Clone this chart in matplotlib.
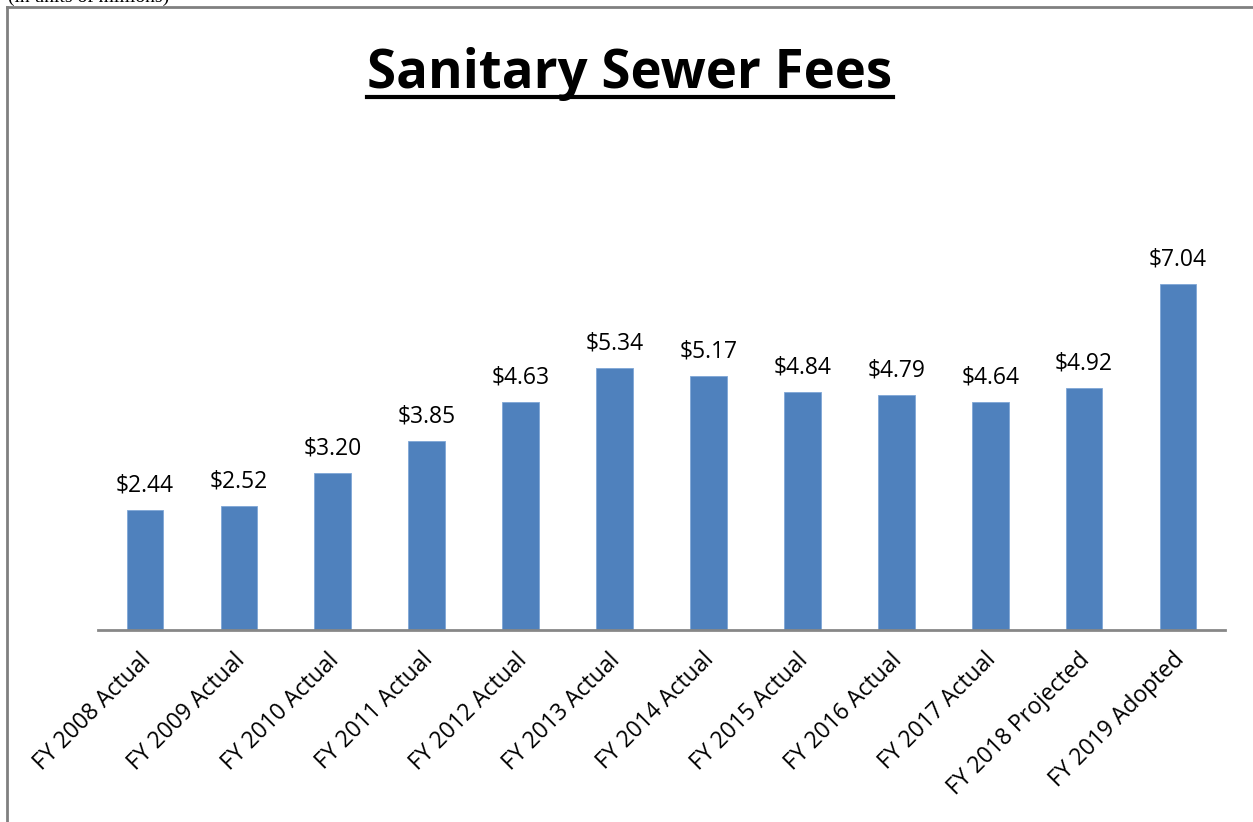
import numpy as np
import matplotlib
matplotlib.use("Agg")
import matplotlib.pyplot as plt
import matplotlib.transforms as mtransforms
from matplotlib.lines import Line2D

categories = ["FY 2008 Actual", "FY 2009 Actual", "FY 2010 Actual", "FY 2011 Actual",
              "FY 2012 Actual", "FY 2013 Actual", "FY 2014 Actual", "FY 2015 Actual",
              "FY 2016 Actual", "FY 2017 Actual", "FY 2018 Projected", "FY 2019 Adopted"]
fees = [2.44, 2.52, 3.20, 3.85, 4.63, 5.34, 5.17, 4.84, 4.79, 4.64, 4.92, 7.04]

W, H = 1253, 822
fig = plt.figure(figsize=(W / 100, H / 100), dpi=100)

# plot area: baseline at y=630 px, 49.15 px per unit
ax_top = 130
ax = fig.add_axes([98 / W, (H - 630) / H, (1225 - 98) / W, (630 - ax_top) / H])
x = np.arange(len(categories))
ax.bar(x, fees, width=0.39, color="#4F81BD", edgecolor="#7FA7D6", linewidth=0.6)
ax.set_xlim(-0.5, len(categories) - 0.5)
ax.set_ylim(0, (630 - ax_top) / 49.15)

for i, v in enumerate(fees):
    ax.annotate(f"${v:.2f}", (i, v), xytext=(0, 9), textcoords="offset points",
                ha="center", va="bottom", fontsize=16.5, family="Open Sans")

ax.set_xticks(x)
ax.set_xticklabels(categories, rotation=45, ha="right", rotation_mode="anchor",
                   fontsize=16.5, family="Open Sans")
ax.tick_params(axis="x", length=0, pad=13)
# nudge labels a little left, like the original
shift = mtransforms.ScaledTranslation(-6 / 100, 0, fig.dpi_scale_trans)
for lbl in ax.get_xticklabels():
    lbl.set_transform(lbl.get_transform() + shift)
ax.set_yticks([])
for s in ["top", "right", "left"]:
    ax.spines[s].set_visible(False)
ax.spines["bottom"].set_color("#878787")
ax.spines["bottom"].set_linewidth(2)

# title with underline
title = fig.text(630 / W, 1 - 88 / H, "Sanitary Sewer Fees", ha="center", va="baseline",
                 fontsize=38, fontweight="bold", family="Open Sans")
fig.canvas.draw()
bb = title.get_window_extent()
uy = 1 - 97 / H
fig.add_artist(Line2D([bb.x0 / W, bb.x1 / W], [uy, uy], color="black", lw=3))

# chart border (top and left edges visible)
fig.add_artist(Line2D([7 / W, 1], [1 - 7 / H, 1 - 7 / H], color="#808080", lw=2))
fig.add_artist(Line2D([7 / W, 7 / W], [0, 1 - 7 / H], color="#808080", lw=2))

# clipped caption above the chart box
fig.text(8 / W, 1 - 2 / H, "(in units of millions)", ha="left", va="baseline",
         fontsize=14, family="Liberation Serif")

fig.savefig("out.png", dpi=100)
